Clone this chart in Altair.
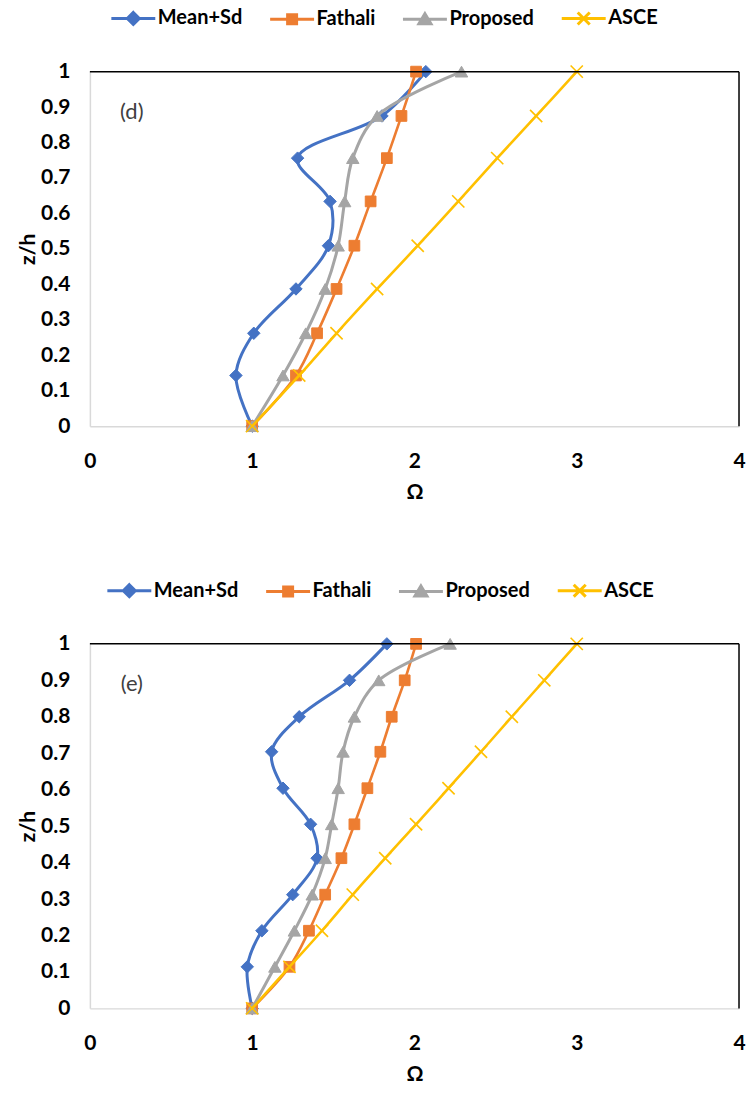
import altair as alt
import pandas as pd

FONT = "Lato"
SERIES = ["Mean+Sd", "Fathali", "Proposed", "ASCE"]
COLORS = ["#4472C4", "#ED7D31", "#A5A5A5", "#FFC000"]

X_TICKS = [0, 1, 2, 3, 4]
Y_TICKS = [0, 0.1, 0.2, 0.3, 0.4, 0.5, 0.6, 0.7, 0.8, 0.9, 1]

# panel (d): normalised height levels and Omega profiles
z_d = [0.0, 0.143, 0.262, 0.387, 0.509, 0.634, 0.756, 0.875, 1.0]
mean_sd_d = [1.0, 0.90, 1.01, 1.27, 1.47, 1.48, 1.28, 1.80, 2.07]
fathali_d = [1.0, 1.27, 1.40, 1.52, 1.63, 1.73, 1.83, 1.92, 2.01]
proposed_d = [1.0, 1.19, 1.33, 1.45, 1.53, 1.57, 1.62, 1.77, 2.29]
asce_d = [1.0, 1.29, 1.52, 1.77, 2.02, 2.27, 2.51, 2.75, 3.0]

# panel (e)
z_e = [0.0, 0.114, 0.213, 0.312, 0.412, 0.505, 0.604, 0.704, 0.8, 0.9, 1.0]
mean_sd_e = [1.0, 0.97, 1.06, 1.25, 1.40, 1.36, 1.19, 1.12, 1.29, 1.60, 1.83]
fathali_e = [1.0, 1.23, 1.35, 1.45, 1.55, 1.63, 1.71, 1.79, 1.86, 1.94, 2.01]
proposed_e = [1.0, 1.14, 1.26, 1.37, 1.45, 1.49, 1.53, 1.56, 1.63, 1.78, 2.22]
asce_e = [1.0, 1.23, 1.43, 1.62, 1.82, 2.01, 2.21, 2.41, 2.60, 2.80, 3.0]

# plot markers (shape, size, filled) per series
X_PATH = "M-1,-1L1,1M-1,1L1,-1"
MARKERS = [("diamond", 155, True), ("square", 115, True),
           ("triangle-up", 155, True), (X_PATH, 150, False)]
LINE_WIDTHS = [3.0, 2.6, 3.0, 2.6]

# legend glyphs: a short line with the series marker on it
LEGEND_PATHS = [
    "M-2.2,0H2.2M0,-0.6L0.6,0L0,0.6L-0.6,0Z",
    "M-2.2,0H2.2M-0.45,-0.45H0.45V0.45H-0.45Z",
    "M-2.2,0H2.2M0,-0.55L0.6,0.45H-0.6Z",
    "M-2.2,0H2.2M-0.6,-0.6L0.6,0.6M-0.6,0.6L0.6,-0.6",
]


def long_table(z, columns):
    rows = []
    for name, vals in zip(SERIES, columns):
        for zz, v in zip(z, vals):
            rows.append({"series": name, "z": zz, "omega": v})
    return pd.DataFrame(rows)


def panel(z, columns, tag, height, legend_x, legend_y):
    df = long_table(z, columns)
    base = alt.Chart(df)

    x = alt.X("omega:Q", scale=alt.Scale(domain=[0, 4], nice=False, zero=False),
              axis=alt.Axis(values=X_TICKS, format="d", title="Ω",
                            labelPadding=24, titlePadding=10,
                            labelOverlap=False, labelFlush=False))
    y = alt.Y("z:Q", scale=alt.Scale(domain=[0, 1], nice=False, zero=False),
              axis=alt.Axis(values=Y_TICKS, tickCount=11, format=".1~f", title="z/h",
                            labelPadding=20, titlePadding=2,
                            labelOverlap=False))

    layers = []
    # each series: its line first, then its markers on top
    for name, color, lw, (shape, size, filled) in zip(SERIES, COLORS, LINE_WIDTHS, MARKERS):
        sel = base.transform_filter(alt.datum.series == name)
        layers.append(
            sel.mark_line(interpolate="catmull-rom", strokeWidth=lw, color=color)
            .encode(x=x, y=y, order=alt.Order("z:Q"))
        )
        if filled:
            mk = sel.mark_point(shape=shape, size=size, filled=True, fill=color,
                                stroke=color, strokeWidth=1.0, opacity=1)
        else:
            mk = sel.mark_point(shape=shape, size=size, filled=False,
                                stroke=color, strokeWidth=1.6, opacity=1)
        layers.append(mk.encode(x=x, y=y))

    legend = alt.Legend(
        title=None, orient="none", direction="horizontal",
        legendX=legend_x, legendY=legend_y,
        symbolSize=400, symbolStrokeWidth=3, symbolOpacity=1,
        labelFont=FONT, labelFontSize=20, labelFontWeight="bold", labelColor="black",
        labelOffset=13, columnPadding=21, labelLimit=400, padding=0,
    )
    # zero-size marks: they only carry the legend
    key = base.transform_filter(alt.datum.z == 0).mark_point(
        filled=True, opacity=1, strokeWidth=3, size=0
    ).encode(
        x=x, y=y,
        shape=alt.Shape("series:N", scale=alt.Scale(domain=SERIES, range=LEGEND_PATHS), legend=legend),
        fill=alt.Fill("series:N", scale=alt.Scale(domain=SERIES, range=COLORS), legend=legend),
        stroke=alt.Stroke("series:N", scale=alt.Scale(domain=SERIES, range=COLORS), legend=legend),
    )

    one = alt.Chart(pd.DataFrame({"v": [1]}))
    top_edge = one.mark_rule(color="black", strokeWidth=1.5).encode(y=alt.datum(1))
    right_edge = one.mark_rule(color="black", strokeWidth=1.5).encode(x=alt.datum(4))

    label = alt.Chart(pd.DataFrame({"t": [tag]})).mark_text(
        font=FONT, fontSize=22, color="#404040", align="center", baseline="middle"
    ).encode(x=alt.value(42), y=alt.value(40), text="t:N")

    return alt.layer(key, *layers, top_edge, right_edge, label).properties(
        width=650, height=height
    )


chart_d = panel(z_d, [mean_sd_d, fathali_d, proposed_d, asce_d], "(d)", 355, 32, -65)
chart_e = panel(z_e, [mean_sd_e, fathali_e, proposed_e, asce_e], "(e)", 365, 28, -65)

chart = (
    alt.vconcat(chart_d, chart_e, spacing=77)
    .resolve_scale(x="independent", y="independent",
                   fill="independent", stroke="independent", shape="independent")
    .resolve_legend(fill="independent", stroke="independent", shape="independent")
    .properties(padding={"left": 17, "top": 6, "right": 0, "bottom": 0})
    .configure_view(stroke=None)
    .configure_axis(
        domainColor="#D9D9D9", domainWidth=1.5, ticks=False, grid=False,
        labelFont=FONT, labelFontSize=21, labelFontWeight="bold", labelColor="black",
        titleFont=FONT, titleFontSize=21, titleFontWeight="bold", titleColor="black",
    )
)

chart.save("out.html", embed_options={"renderer": "svg", "actions": False})
